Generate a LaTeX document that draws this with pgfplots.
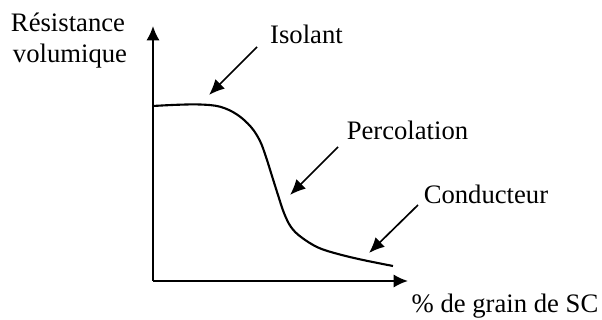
\documentclass[border=0pt]{standalone}
\usepackage{fontspec}
\setmainfont{Liberation Serif}
\usepackage{pgfplots}
\pgfplotsset{compat=1.18}
\usetikzlibrary{arrows.meta}

\begin{document}
\begin{tikzpicture}[x=0.45pt,y=0.45pt]
\useasboundingbox (-153,-39) rectangle (449,281);
\begin{axis}[
  at={(0,0)}, anchor=origin,
  scale only axis,
  width=114.75pt, height=114.75pt,
  xmin=0, xmax=255, ymin=0, ymax=255,
  enlargelimits=false,
  axis lines=left,
  axis line style={line width=0.9pt, -{Latex[length=6.5pt,width=6pt]}},
  ticks=none,
  clip=false,
]
\addplot[black, line width=0.95pt, smooth, tension=0.6] coordinates {
  (0,175) (24,176.2) (47,176.5) (67,174.3) (84,166.5) (98,154)
  (107,140) (113,124) (119,105) (125,86) (131,68) (138,54) (148,44)
  (165,33.5) (185,27) (210,21) (240,15)
};
% annotations
\draw[line width=0.75pt, -{Latex[length=7pt,width=6pt]}] (axis cs:104,234) -- (axis cs:56,186);
\draw[line width=0.75pt, -{Latex[length=7pt,width=6pt]}] (axis cs:185,134) -- (axis cs:137,86);
\draw[line width=0.75pt, -{Latex[length=7pt,width=6pt]}] (axis cs:265,76) -- (axis cs:216,28);
\node[anchor=base, inner sep=0pt, font=\fontsize{12}{14}\selectfont] at (axis cs:153.5,237) {Isolant};
\node[anchor=base, inner sep=0pt, font=\fontsize{12}{14}\selectfont] at (axis cs:254.5,141) {Percolation};
\node[anchor=base, inner sep=0pt, font=\fontsize{12}{14}\selectfont] at (axis cs:333,77) {Conducteur};
\node[anchor=base, inner sep=0pt, font=\fontsize{12}{14}\selectfont] at (axis cs:352,-32) {\% de grain de SC};
\node[anchor=base, inner sep=0pt, font=\fontsize{12}{14}\selectfont] at (axis cs:-85,249) {Résistance};
\node[anchor=base, inner sep=0pt, font=\fontsize{12}{14}\selectfont] at (axis cs:-83,218) {volumique};
\end{axis}
\end{tikzpicture}
\end{document}
